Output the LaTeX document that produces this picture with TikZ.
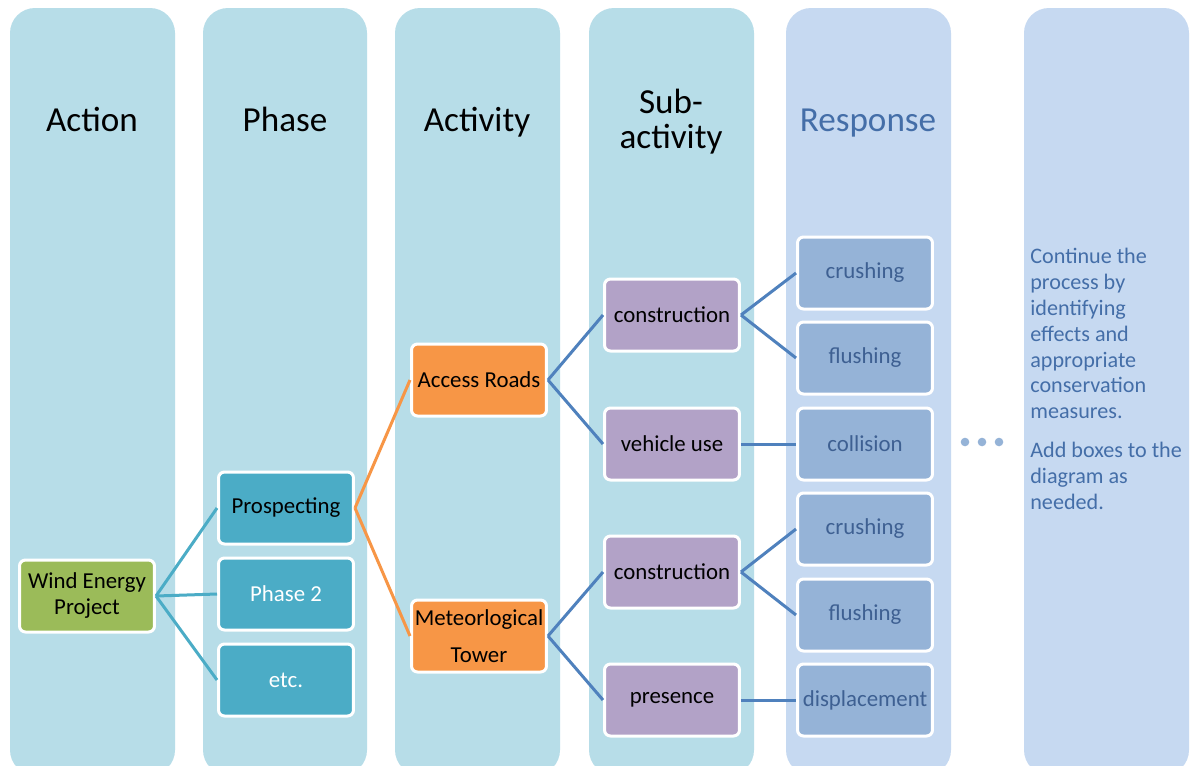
\documentclass[tikz,border=0pt]{standalone}
\usepackage{fontspec}
\setmainfont{Carlito}
\usetikzlibrary{backgrounds}
\definecolor{colA}{RGB}{183,221,232}
\definecolor{colR}{RGB}{198,217,241}
\definecolor{green1}{RGB}{155,187,89}
\definecolor{teal1}{RGB}{75,172,198}
\definecolor{orange1}{RGB}{247,150,70}
\definecolor{purple1}{RGB}{178,162,199}
\definecolor{steel1}{RGB}{149,179,215}
\definecolor{blueline}{RGB}{79,129,189}
\definecolor{resptext}{RGB}{62,96,146}
\definecolor{headblue}{RGB}{68,110,168}
\tikzset{
  column/.style={fill=#1, draw=none, rounded corners=0.5cm},
  box/.style={draw=white, line width=0.06cm, rounded corners=0.12cm,
    minimum width=2.7cm, minimum height=1.44cm, inner sep=1pt, align=center,
    font=\fontsize{13}{14.8}\selectfont},
  head/.style={font=\fontsize{20}{21}\selectfont, align=center},
  conn/.style={line width=0.06cm, draw=#1},
}
\begin{document}
\begin{tikzpicture}[x=0.02cm, y=-0.02cm]
\useasboundingbox (0,0) rectangle (1190,765);
\fill[white] (0,0) rectangle (1190,765);
% columns
\foreach \l/\r/\c in {10/175/colA, 203/367/colA, 395/560/colA, 589/754/colA, 786/951/colR, 1024/1189/colR}
  \fill[column=\c] (\l,8) rectangle (\r,775);
% headers
\node[head, anchor=base] (hAction) at (92,131) {Action};
\node[head, anchor=base] (hPhase) at (285,131) {Phase};
\node[head, anchor=base] (hActivity) at (477,131) {Activity};
\node[head, text depth=0pt] (hSub) at (671,119) {Sub-\\[-1pt]activity};
\node[head, anchor=base, text=headblue] (hResp) at (868,131) {Response};
% boxes
\node[box, fill=green1, text=black] (wind) at (87,596) {Wind Energy\\Project};
\node[box, fill=teal1, text=black] (prosp) at (286,508) {Prospecting};
\node[box, fill=teal1, text=white] (ph2) at (286,594) {Phase 2};
\node[box, fill=teal1, text=white] (etc) at (286,680) {etc.};
\node[box, fill=orange1, text=black] (roads) at (479,380) {Access Roads};
\node[box, fill=orange1, text=black, font=\fontsize{13}{21}\selectfont] (met) at (479,636) {Meteorlogical\\Tower};
\node[box, fill=purple1, text=black] (con1) at (672,315) {construction};
\node[box, fill=purple1, text=black] (veh) at (672,444) {vehicle use};
\node[box, fill=purple1, text=black] (con2) at (672,572) {construction};
\node[box, fill=purple1, text=black] (pres) at (672,700) {presence};
\node[box, fill=steel1, text=resptext] (cr1) at (865,273) {crushing};
\node[box, fill=steel1, text=resptext] (fl1) at (865,358) {flushing};
\node[box, fill=steel1, text=resptext] (col) at (865,444) {collision};
\node[box, fill=steel1, text=resptext] (cr2) at (865,529) {crushing};
\node[box, fill=steel1, text=resptext] (fl2) at (865,615) {flushing};
\node[box, fill=steel1, text=resptext] (disp) at (865,700) {displacement};
% dots
\foreach \x/\n in {965/d1, 982/d2, 999/d3}
  \fill[steel1] (\x,442) circle[radius=4.3] coordinate (\n);
% note
\node[anchor=north west, inner sep=0pt, align=left, text=headblue,
  font=\fontsize{12.6}{14.7}\selectfont] (note) at (1030,248)
  {Continue the\\process by\\identifying\\effects and\\appropriate\\conservation\\measures.\\[7.5pt]Add boxes to the\\diagram as\\needed.};
% connectors
\draw[conn=teal1] (wind.east) -- (prosp.west);
\draw[conn=teal1] (wind.east) -- (ph2.west);
\draw[conn=teal1] (wind.east) -- (etc.west);
\draw[conn=orange1] (prosp.east) -- (roads.west);
\draw[conn=orange1] (prosp.east) -- (met.west);
\draw[conn=blueline] (roads.east) -- (con1.west);
\draw[conn=blueline] (roads.east) -- (veh.west);
\draw[conn=blueline] (met.east) -- (con2.west);
\draw[conn=blueline] (met.east) -- (pres.west);
\draw[conn=blueline] (con1.east) -- (cr1.west);
\draw[conn=blueline] (con1.east) -- (fl1.west);
\draw[conn=blueline] (veh.east) -- (col.west);
\draw[conn=blueline] (con2.east) -- (cr2.west);
\draw[conn=blueline] (con2.east) -- (fl2.west);
\draw[conn=blueline] (pres.east) -- (disp.west);
\end{tikzpicture}
\end{document}
